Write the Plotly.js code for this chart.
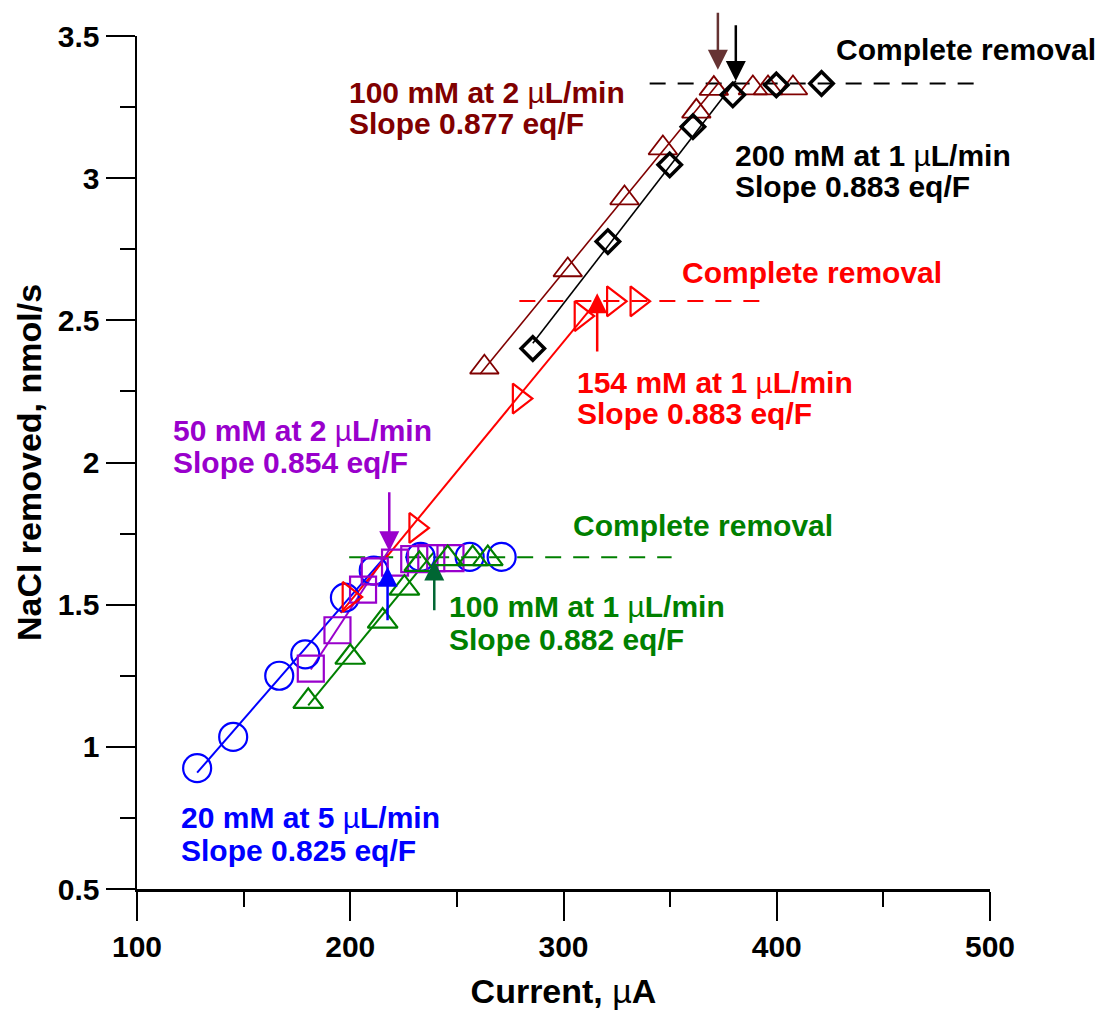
<!DOCTYPE html>
<html><head><meta charset="utf-8">
<script src="https://cdn.plot.ly/plotly-3.0.1.min.js"></script>
<style>html,body{margin:0;padding:0;background:#fff}#chart{width:1109px;height:1011px}</style>
</head><body><div id="chart"></div>
<script>
// ---- data ----
const blueX   = [128.2, 145.1, 166.7, 178.9, 197.5, 211.0, 233.0, 256.0, 271.0];
const blueY   = [0.925, 1.035, 1.250, 1.325, 1.525, 1.620, 1.668, 1.668, 1.668];
const purpleX = [181.5, 194.0, 206.0, 211.5, 221.0, 230.0, 238.0, 247.0];
const purpleY = [1.275, 1.410, 1.553, 1.617, 1.648, 1.660, 1.664, 1.664];
const greenX  = [180.3, 200.0, 215.2, 225.4, 232.4, 245.7, 257.4, 264.5];
const greenY  = [1.160, 1.315, 1.442, 1.558, 1.642, 1.662, 1.662, 1.662];
const redX    = [199.5, 230.8, 279.3, 308.3, 323.5, 334.5];
const redY    = [1.527, 1.770, 2.225, 2.515, 2.567, 2.567];
const maroonX = [262.9, 302.0, 328.6, 346.6, 362.3, 370.5, 388.8, 395.9, 407.6];
const maroonY = [2.335, 2.677, 2.930, 3.106, 3.235, 3.315, 3.317, 3.317, 3.317];
const blackX  = [285.6, 320.8, 349.8, 360.7, 379.4, 399.8, 421.0];
const blackY  = [2.401, 2.777, 3.047, 3.181, 3.293, 3.328, 3.333];

// complete-removal reference lines
const removalY  = [3.333, 2.568, 1.667];
const removalX0 = [340.4, 279.3, 199.5];
const removalX1 = [494.4, 394.4, 350.7];

// breakpoint arrows: x, tail y, tip y
const arrowX    = [372.4, 380.8, 315.8, 218.3, 217.5, 239.4];
const arrowTail = [3.587, 3.543, 2.385, 1.901, 1.440, 1.475];
const arrowTip  = [3.381, 3.342, 2.595, 1.688, 1.633, 1.655];

// labels
const seriesLabels = ['20 mM at 5 µL/min','50 mM at 2 µL/min','100 mM at 1 µL/min','154 mM at 1 µL/min','100 mM at 2 µL/min','200 mM at 1 µL/min'];
const slopeLabels  = ['Slope 0.825 eq/F','Slope 0.854 eq/F','Slope 0.882 eq/F','Slope 0.883 eq/F','Slope 0.877 eq/F','Slope 0.883 eq/F'];
const removalLabel = 'Complete removal';
const xTitle = 'Current, µA';
const yTitle = 'NaCl removed, nmol/s';

// ---- styling ----
const F = 'Liberation Sans, Arial, sans-serif';
const C = {blue:'#0000ff', purple:'#9900cc', green:'#008000', red:'#ff0000', maroon:'#800000', black:'#000000'};
const arrowColors = ['#663333', '#000000', '#ff0000', '#9900cc', '#0000ff', '#006633'];

function fitLine(xs, ys, xBreak, ext){
  const p = xs.map((x,i)=>[x,ys[i]]).filter(q=>q[0] <= xBreak);
  const n = p.length;
  const mx = p.reduce((s,q)=>s+q[0],0)/n, my = p.reduce((s,q)=>s+q[1],0)/n;
  let sxy=0, sxx=0; p.forEach(q=>{sxy+=(q[0]-mx)*(q[1]-my); sxx+=(q[0]-mx)**2;});
  const b = sxy/sxx, a = my - b*mx;
  const x0 = p[0][0] - (ext||0);
  return {x:[x0, xBreak], y:[a+b*x0, a+b*xBreak]};
}

const series = [
  {x:blueX,   y:blueY,   c:C.blue,   sym:'circle-open',         size:28, lw:2.2, fw:2,   brk:arrowX[4], ext:0},
  {x:purpleX, y:purpleY, c:C.purple, sym:'square-open',         size:26, lw:2.2, fw:2,   brk:arrowX[3], ext:0},
  {x:greenX,  y:greenY,  c:C.green,  sym:'triangle-up-open',    size:26, lw:2.2, fw:2,   brk:arrowX[5], ext:0},
  {x:redX,    y:redY,    c:C.red,    sym:'triangle-right-open', size:26, lw:2.2, fw:2,   brk:arrowX[2], ext:4},
  {x:maroonX, y:maroonY, c:C.maroon, sym:'triangle-up-open',    size:25, lw:1.8, fw:1.6, brk:arrowX[0], ext:2},
  {x:blackX,  y:blackY,  c:C.black,  sym:'diamond-open',        size:18, lw:3.5, fw:1.6, brk:arrowX[1], ext:0}
];

const traces = [];
const removalColors = [C.black, C.red, C.green];
removalY.forEach((yv,i)=>{
  traces.push({x:[removalX0[i], removalX1[i]], y:[yv,yv], mode:'lines', hoverinfo:'skip',
    line:{color:removalColors[i], width:2, dash:'16px,12px'}});
});
series.forEach(s=>{
  const f = fitLine(s.x, s.y, s.brk, s.ext);
  traces.push({x:f.x, y:f.y, mode:'lines', line:{color:s.c, width:s.fw}, hoverinfo:'skip'});
});
series.forEach(s=>{
  traces.push({x:s.x, y:s.y, mode:'markers', cliponaxis:false,
    marker:{symbol:s.sym, size:s.size, color:s.c, line:{color:s.c, width:s.lw}}});
});

const mu = t => t.replace('µ','<span style="font-weight:normal">µ</span>');
function txt(text, x, y, color, anchor){
  return {text:mu(text), x:x, y:y, xref:'x', yref:'y', showarrow:false,
    xanchor:anchor||'left', yanchor:'middle',
    font:{family:F, size:30, weight:'bold', color:color}};
}
const annotations = [
  txt(removalLabel, 427.0, 3.451, C.black),
  txt(seriesLabels[4], 198.6, 3.303, C.maroon),
  txt(slopeLabels[4],  198.6, 3.194, C.maroon),
  txt(seriesLabels[5], 379.3, 3.078, C.black),
  txt(slopeLabels[5],  379.3, 2.969, C.black),
  txt(removalLabel, 354.5, 2.667, C.red),
  txt(seriesLabels[3], 305.6, 2.280, C.red),
  txt(slopeLabels[3],  305.6, 2.171, C.red),
  txt(seriesLabels[1], 116.0, 2.111, C.purple),
  txt(slopeLabels[1],  116.0, 2.001, C.purple),
  txt(removalLabel, 303.3, 1.780, C.green),
  txt(seriesLabels[2], 245.5, 1.492, C.green),
  txt(slopeLabels[2],  245.5, 1.376, C.green),
  txt(seriesLabels[0], 119.7, 0.750, C.blue),
  txt(slopeLabels[0],  119.7, 0.634, C.blue)
];
arrowX.forEach((ax,i)=>{
  annotations.push({x:ax, y:arrowTip[i], ax:ax, ay:arrowTail[i], xref:'x', yref:'y', axref:'x', ayref:'y',
    text:'', showarrow:true, arrowhead:2, arrowsize:1.6, arrowwidth:2.5, arrowcolor:arrowColors[i], standoff:0});
});

const axisCommon = {showline:true, linecolor:'#000', linewidth:2.5, ticks:'outside', ticklen:29, tickwidth:2,
  tickcolor:'#000', showgrid:false, zeroline:false,
  tickfont:{family:F, size:30, weight:'bold', color:'#000'}};

const layout = {
  width:1109, height:1011, showlegend:false,
  margin:{l:137, r:119, t:36, b:122},
  paper_bgcolor:'#fff', plot_bgcolor:'#fff',
  xaxis:Object.assign({}, axisCommon, {range:[100,500], tick0:100, dtick:100,
    minor:{dtick:50, ticks:'outside', ticklen:15, tickwidth:2, tickcolor:'#000', showgrid:false},
    title:{text:mu(xTitle), font:{family:F, size:34, weight:'bold', color:'#000'}, standoff:18}}),
  yaxis:Object.assign({}, axisCommon, {range:[0.5,3.5], tick0:0.5, dtick:0.5,
    minor:{dtick:0.25, ticks:'outside', ticklen:15, tickwidth:2, tickcolor:'#000', showgrid:false},
    title:{text:yTitle, font:{family:F, size:34, weight:'bold', color:'#000'}, standoff:6}}),
  annotations:annotations
};

Plotly.newPlot('chart', traces, layout, {staticPlot:true, displayModeBar:false});
</script></body></html>
